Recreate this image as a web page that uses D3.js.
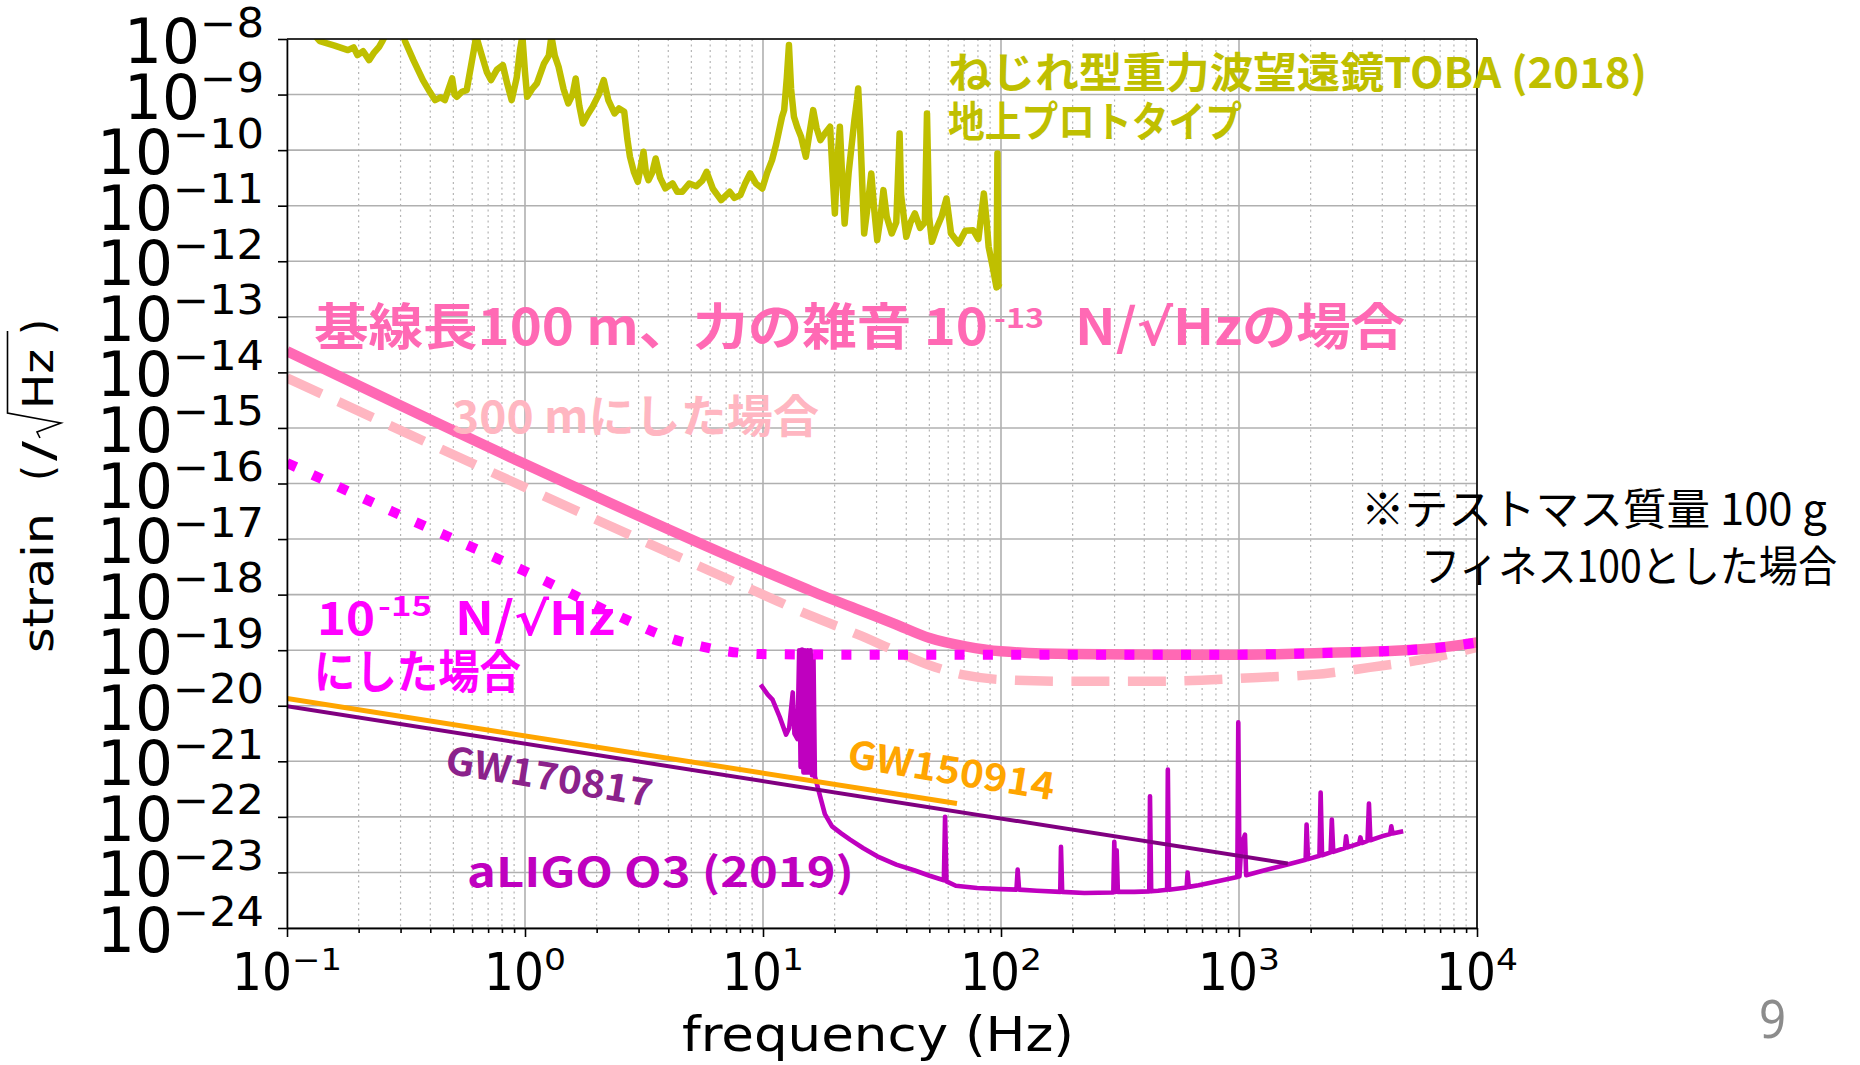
<!DOCTYPE html>
<html>
<head>
<meta charset="utf-8">
<script src="https://cdn.jsdelivr.net/npm/d3@7/dist/d3.min.js"></script>
<style>
body { margin: 0; background: #fff; }
svg { display: block; }
</style>
</head>
<body>
<div id="chart"></div>
<script>
// tick powers of ten
var xTickPowers = [-1, 0, 1, 2, 3, 4];
var yTickPowers = [-24, -23, -22, -21, -20, -19, -18, -17, -16, -15, -14, -13, -12, -11, -10, -9, -8];

// every series is a list of [log10 frequency (Hz), log10 strain]
var toba = [[-1.0, -7.5], [-0.9, -7.85], [-0.862, -8.04], [-0.8, -8.12], [-0.744, -8.2], [-0.72, -8.15], [-0.704, -8.29],
  [-0.68, -8.22], [-0.655, -8.38], [-0.635, -8.25], [-0.613, -8.14], [-0.597, -8.02], [-0.57, -7.8], [-0.52, -7.8],
  [-0.504, -8.04], [-0.469, -8.38], [-0.429, -8.74], [-0.40, -8.95], [-0.378, -9.1], [-0.355, -9.05], [-0.337, -9.1],
  [-0.306, -8.71], [-0.296, -9.0], [-0.286, -9.04], [-0.265, -8.95], [-0.245, -8.92], [-0.215, -8.2], [-0.205, -7.95],
  [-0.184, -8.26], [-0.16, -8.6], [-0.143, -8.74], [-0.118, -8.55], [-0.093, -8.47], [-0.075, -8.8], [-0.056, -9.1],
  [-0.035, -8.7], [-0.021, -8.2], [-0.011, -7.95], [0.0, -8.6], [0.009, -9.04], [0.03, -8.9], [0.05, -8.8], [0.08, -8.44],
  [0.1, -8.3], [0.111, -7.95], [0.125, -8.3], [0.141, -8.5], [0.162, -8.9], [0.182, -9.16], [0.2, -9.0], [0.213, -8.71],
  [0.228, -9.2], [0.243, -9.52], [0.265, -9.35], [0.284, -9.22], [0.31, -9.0], [0.331, -8.74], [0.35, -9.1], [0.376, -9.34],
  [0.395, -9.25], [0.417, -9.31], [0.43, -9.8], [0.441, -10.12], [0.458, -10.4], [0.474, -10.57], [0.486, -10.3],
  [0.498, -10.03], [0.508, -10.4], [0.519, -10.54], [0.535, -10.4], [0.549, -10.15], [0.568, -10.5], [0.59, -10.69],
  [0.62, -10.6], [0.64, -10.75], [0.661, -10.75], [0.69, -10.6], [0.72, -10.65], [0.745, -10.55], [0.763, -10.39],
  [0.79, -10.7], [0.824, -10.9], [0.86, -10.75], [0.88, -10.86], [0.905, -10.81], [0.925, -10.6], [0.946, -10.42],
  [0.97, -10.6], [0.997, -10.69], [1.018, -10.4], [1.038, -10.18], [1.055, -9.9], [1.068, -9.64], [1.08, -9.4],
  [1.089, -9.28], [1.1, -8.7], [1.109, -8.11], [1.118, -8.9], [1.13, -9.4], [1.145, -9.6], [1.16, -9.76], [1.18, -10.12],
  [1.195, -9.7], [1.211, -9.28], [1.225, -9.6], [1.241, -9.82], [1.26, -9.7], [1.282, -9.58], [1.292, -10.4],
  [1.302, -11.14], [1.312, -10.2], [1.323, -9.58], [1.333, -10.5], [1.343, -11.32], [1.36, -10.4], [1.384, -9.46],
  [1.395, -9.1], [1.40, -8.89], [1.408, -9.6], [1.425, -11.5], [1.44, -11.0], [1.455, -10.42], [1.468, -11.1],
  [1.48, -11.62], [1.494, -11.2], [1.506, -10.72], [1.52, -11.2], [1.541, -11.5], [1.56, -11.3], [1.574, -9.7],
  [1.58, -10.8], [1.602, -11.56], [1.62, -11.3], [1.638, -11.14], [1.66, -11.4], [1.68, -11.3], [1.689, -9.34],
  [1.698, -11.2], [1.71, -11.65], [1.73, -11.4], [1.75, -11.2], [1.771, -10.87], [1.79, -11.5], [1.822, -11.68],
  [1.85, -11.45], [1.883, -11.44], [1.905, -11.6], [1.928, -10.78], [1.94, -11.3], [1.948, -11.74], [1.965, -12.1],
  [1.981, -12.47], [1.985, -10.06], [1.989, -12.45], [1.993, -12.4]];

var force100m = [[-1, -13.62], [0, -15.65], [1, -17.57], [1.2, -17.93], [1.4, -18.27], [1.55, -18.52], [1.7, -18.78],
  [1.85, -18.93], [2.0, -19.02], [2.3, -19.07], [2.7, -19.08], [3.0, -19.08], [3.35, -19.05], [3.6, -19.02],
  [3.83, -18.96], [4.0, -18.86]];

var force300m = [[-1, -14.1], [0, -16.07], [1, -18.0], [1.2, -18.38], [1.4, -18.72], [1.55, -19.0], [1.7, -19.27],
  [1.85, -19.45], [2.0, -19.53], [2.3, -19.56], [2.63, -19.56], [3.08, -19.49], [3.31, -19.44], [3.55, -19.31],
  [3.77, -19.17], [4.0, -18.95]];

var force15 = [[-1, -15.63], [-0.56, -16.5], [0, -17.58], [0.4, -18.4], [0.62, -18.8], [0.74, -18.93], [0.85, -19.02],
  [1.0, -19.07], [1.3, -19.08], [2.0, -19.08], [2.7, -19.08], [3.0, -19.08], [3.35, -19.05], [3.6, -19.02],
  [3.83, -18.96], [4.0, -18.86]];

var gw150914 = [[-1, -19.87], [1.815, -21.76]];
var gw170817 = [[-1, -20.01], [3.205, -22.84]];

var aligo = [[0.99, -19.62], [1.02, -19.8], [1.04, -19.89], [1.07, -20.2], [1.097, -20.52], [1.11, -20.4], [1.125, -19.76],
  [1.132, -20.5], [1.145, -20.6], [1.152, -19.0], [1.158, -21.1], [1.164, -18.99], [1.17, -21.2], [1.176, -19.0],
  [1.182, -21.2], [1.188, -19.0], [1.194, -21.2], [1.2, -19.0], [1.206, -21.25], [1.212, -19.1], [1.218, -21.27],
  [1.24, -21.63], [1.26, -21.95], [1.29, -22.17], [1.33, -22.3], [1.366, -22.41], [1.42, -22.56], [1.48, -22.71],
  [1.56, -22.86], [1.635, -22.96], [1.7, -23.06], [1.76, -23.14], [1.765, -22.0], [1.771, -23.16], [1.81, -23.24],
  [1.9, -23.28], [2.0, -23.3], [2.065, -23.31], [2.07, -22.95], [2.076, -23.31], [2.15, -23.33], [2.249, -23.35],
  [2.252, -22.54], [2.257, -23.35], [2.35, -23.37], [2.472, -23.36], [2.476, -22.45], [2.481, -23.35], [2.486, -22.6],
  [2.491, -23.35], [2.56, -23.35], [2.623, -23.34], [2.626, -21.63], [2.631, -23.34], [2.66, -23.33], [2.698, -23.31],
  [2.701, -21.15], [2.706, -23.31], [2.78, -23.27], [2.784, -23.0], [2.789, -23.26], [2.83, -23.23], [2.92, -23.15],
  [2.993, -23.08], [2.997, -20.3], [3.002, -23.07], [3.01, -22.5], [3.025, -22.32], [3.03, -23.05], [3.1, -22.97],
  [3.2, -22.86], [3.28, -22.77], [3.284, -22.14], [3.29, -22.76], [3.338, -22.7], [3.343, -21.56], [3.349, -22.69],
  [3.385, -22.64], [3.39, -22.05], [3.396, -22.63], [3.445, -22.56], [3.45, -22.35], [3.456, -22.55], [3.505, -22.48],
  [3.51, -22.37], [3.516, -22.47], [3.54, -22.43], [3.546, -21.76], [3.552, -22.42], [3.6, -22.35], [3.635, -22.31],
  [3.64, -22.17], [3.645, -22.3], [3.69, -22.26]];

// chart setup
var svgWidth = 1860;
var svgHeight = 1065;
var margin = {top: 39, right: 383, bottom: 137, left: 287};
var width = svgWidth - margin.left - margin.right;
var height = svgHeight - margin.top - margin.bottom;

var svg = d3.select('#chart')
  .append('svg')
  .attr('width', svgWidth)
  .attr('height', svgHeight);
svg.append('rect').attr('width', svgWidth).attr('height', svgHeight).attr('fill', '#fff');

var chart = svg.append('g')
  .attr('transform', 'translate(' + margin.left + ',' + margin.top + ')');

var x = d3.scaleLog().domain([1e-1, 1e4]).range([0, width]);
var y = d3.scaleLog().domain([1e-24, 1e-8]).range([height, 0]);

var majorX = xTickPowers.map(function(p) { return Math.pow(10, p); });
var majorY = yTickPowers.map(function(p) { return Math.pow(10, p); });
var minorX = [];
xTickPowers.slice(0, -1).forEach(function(p) {
  for (var m = 2; m < 10; m++) minorX.push(m * Math.pow(10, p));
});

// grid
chart.append('g').selectAll('line').data(minorX).enter().append('line')
  .attr('x1', function(d) { return x(d); }).attr('x2', function(d) { return x(d); })
  .attr('y1', 0).attr('y2', height)
  .attr('stroke', '#b4b4b4').attr('stroke-width', 1.2).attr('stroke-dasharray', '2,3.5');
chart.append('g').selectAll('line').data(majorX).enter().append('line')
  .attr('x1', function(d) { return x(d); }).attr('x2', function(d) { return x(d); })
  .attr('y1', 0).attr('y2', height)
  .attr('stroke', '#b0b0b0').attr('stroke-width', 1.6);
chart.append('g').selectAll('line').data(majorY).enter().append('line')
  .attr('x1', 0).attr('x2', width)
  .attr('y1', function(d) { return y(d); }).attr('y2', function(d) { return y(d); })
  .attr('stroke', '#b0b0b0').attr('stroke-width', 1.6);

// series
chart.append('clipPath').attr('id', 'plotclip')
  .append('rect').attr('width', width).attr('height', height);
var plot = chart.append('g').attr('clip-path', 'url(#plotclip)');

var line = d3.line()
  .x(function(d) { return x(Math.pow(10, d[0])); })
  .y(function(d) { return y(Math.pow(10, d[1])); });
var smooth = d3.line()
  .x(function(d) { return x(Math.pow(10, d[0])); })
  .y(function(d) { return y(Math.pow(10, d[1])); })
  .curve(d3.curveMonotoneX);

function drawSeries(data, gen, color, w, dash) {
  var p = plot.append('path')
    .datum(data)
    .attr('d', gen)
    .attr('fill', 'none')
    .attr('stroke', color)
    .attr('stroke-width', w)
    .attr('stroke-linejoin', 'round');
  if (dash) p.attr('stroke-dasharray', dash);
  return p;
}

drawSeries(toba, line, '#bfbf00', 6.5);
drawSeries(aligo, line, '#bf00bf', 4.6);
drawSeries(gw150914, line, '#ffa500', 5);
drawSeries(gw170817, line, '#800080', 4);
drawSeries(force300m, smooth, '#ffb6c1', 9.5, '38,18.5');
drawSeries(force100m, smooth, '#ff69b4', 10.5);
drawSeries(force15, smooth, '#ff00ff', 10, '10,18.3');

// axes
var bottomAxis = d3.axisBottom(x).tickValues(majorX).tickSize(9).tickSizeOuter(0).tickFormat('');
var bottomMinor = d3.axisBottom(x).tickValues(minorX).tickSize(5).tickSizeOuter(0).tickFormat('');
var leftAxis = d3.axisLeft(y).tickValues(majorY).tickSize(9).tickSizeOuter(0).tickFormat('');

chart.append('g').attr('class', 'axis').attr('transform', 'translate(0,' + height + ')').call(bottomMinor);
chart.append('g').attr('class', 'axis').attr('transform', 'translate(0,' + height + ')').call(bottomAxis);
chart.append('g').attr('class', 'axis').call(leftAxis);
chart.selectAll('.axis path, .axis line').attr('stroke', '#000').attr('stroke-width', 1.6);
chart.append('line').attr('x1', 0).attr('x2', width).attr('y1', 0).attr('y2', 0)
  .attr('stroke', '#000').attr('stroke-width', 1.6);
chart.append('line').attr('x1', width).attr('x2', width).attr('y1', 0).attr('y2', height)
  .attr('stroke', '#000').attr('stroke-width', 1.6);

// tick labels, matplotlib mathtext style
var tickFont = 'DejaVu Sans, sans-serif';
xTickPowers.forEach(function(p) {
  var sup = p < 0 ? '\u2212' + (-p) : String(p);
  var supW = p < 0 ? 50 : 22;
  var total = 60 + supW;
  var x0 = margin.left + x(Math.pow(10, p)) - total / 2;
  svg.append('text').attr('x', x0).attr('y', 990)
    .attr('font-family', tickFont).attr('font-size', 52)
    .attr('textLength', 60).attr('lengthAdjust', 'spacingAndGlyphs').text('10');
  svg.append('text').attr('x', x0 + 60).attr('y', 970)
    .attr('font-family', tickFont).attr('font-size', 30)
    .attr('textLength', supW).attr('lengthAdjust', 'spacingAndGlyphs').text(sup);
});
yTickPowers.forEach(function(p) {
  var sup = '\u2212' + (-p);
  var supW = sup.length > 2 ? 91 : 64;
  var right = 264;
  var ty = margin.top + y(Math.pow(10, p));
  svg.append('text').attr('x', right - supW).attr('y', ty - 2.5)
    .attr('font-family', tickFont).attr('font-size', 40)
    .attr('textLength', supW).attr('lengthAdjust', 'spacingAndGlyphs').text(sup);
  svg.append('text').attr('x', right - supW - 76).attr('y', ty + 24)
    .attr('font-family', tickFont).attr('font-size', 62)
    .attr('textLength', 76).attr('lengthAdjust', 'spacingAndGlyphs').text('10');
});

// axis titles
svg.append('text').attr('x', 682).attr('y', 1051)
  .attr('font-family', tickFont).attr('font-size', 48)
  .attr('textLength', 392).attr('lengthAdjust', 'spacingAndGlyphs')
  .text('frequency (Hz)');

var yl = svg.append('g').attr('transform', 'translate(53,653) rotate(-90)');
function ylPart(str, pos, len) {
  yl.append('text').attr('x', pos).attr('y', 0)
    .attr('font-family', tickFont).attr('font-size', 42)
    .attr('textLength', len).attr('lengthAdjust', 'spacingAndGlyphs').text(str);
}
ylPart('strain', 0, 140);
ylPart('(', 172, 16);
ylPart('/', 192, 20);
ylPart('Hz', 244, 60);
ylPart(')', 318, 16);
yl.append('path')
  .attr('d', 'M215,-13 L221,-16 L230,8 L240,-45.5 L322,-45.5')
  .attr('fill', 'none').attr('stroke', '#000').attr('stroke-width', 1.6);

// annotations
var jp = 'Noto Sans CJK JP, sans-serif';
var rootFont = 'DejaVu Sans, sans-serif';
// parts: plain strings, or [string, fontFamily] for a swapped font
function note(parts, px, py, size, color, weight, len) {
  var t = svg.append('text').attr('x', px).attr('y', py)
    .attr('font-family', jp).attr('font-size', size)
    .attr('font-weight', weight).attr('fill', color)
    .attr('textLength', len).attr('lengthAdjust', 'spacingAndGlyphs');
  [].concat(parts).forEach(function(part) {
    if (typeof part === 'string') t.append('tspan').text(part);
    else t.append('tspan').attr('font-family', part[1]).text(part[0]);
  });
  return t;
}

note('ねじれ型重力波望遠鏡TOBA (2018)', 948, 88, 42, '#bfbf00', 700, 699);
note('地上プロトタイプ', 948, 137, 42, '#bfbf00', 700, 294);

note('基線長100 m、力の雑音 10', 314, 345, 50, '#ff69b4', 700, 674);
note('-13', 994, 328, 27, '#ff69b4', 700, 50);
note(['N/', ['√', rootFont], 'Hzの場合'], 1075, 345, 50, '#ff69b4', 700, 330);

note('300 mにした場合', 452, 433, 45, '#ffb6c1', 700, 367);

note('10', 317, 635, 46, '#ff00ff', 700, 58);
note('-15', 378, 616, 27, '#ff00ff', 700, 54);
note(['N/', ['√', rootFont], 'Hz'], 455, 635, 46, '#ff00ff', 700, 160);
note('にした場合', 314, 688, 46, '#ff00ff', 700, 207);

note('GW170817', 0, 0, 38, '#8b228b', 700, 209)
  .attr('transform', 'translate(444,773) rotate(9.3)');
note('GW150914', 0, 0, 38, '#ffa500', 700, 209)
  .attr('transform', 'translate(846,767) rotate(9.2)');

note('aLIGO O3 (2019)', 467, 887, 41, '#bf00bf', 700, 387);

note('※テストマス質量 100 g', 1361, 525, 43, '#000', 400, 466);
note('フィネス100とした場合', 1421, 582, 43, '#000', 400, 416);

svg.append('text').attr('x', 1759).attr('y', 1038)
  .attr('font-family', 'Noto Sans, sans-serif').attr('font-size', 53)
  .attr('fill', '#8c8c8c').attr('textLength', 27).attr('lengthAdjust', 'spacingAndGlyphs')
  .text('9');
</script>
</body>
</html>
